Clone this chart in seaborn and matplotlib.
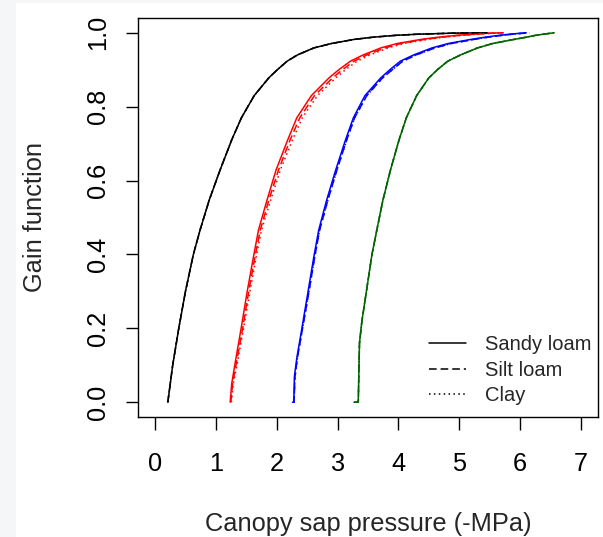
import numpy as np
import pandas as pd
import matplotlib
matplotlib.use("Agg")
import matplotlib.pyplot as plt
import matplotlib.patches as mpatches
from matplotlib.lines import Line2D
import seaborn as sns

# ─── Data ──────────────────────────────────────────────────────────────────────
soils = ["Sandy loam", "Silt loam", "Clay"]

black_gain = [0, 0.05, 0.1, 0.2, 0.3, 0.4, 0.466, 0.547, 0.629, 0.71, 0.77, 0.83,
              0.878, 0.9, 0.923, 0.94, 0.959, 0.971, 0.982, 0.988, 0.993, 0.996, 0.999, 1.0]
black_sandy = [0.21, 0.25, 0.29, 0.39, 0.50, 0.63, 0.74, 0.89, 1.07, 1.26, 1.42, 1.63,
               1.87, 2.01, 2.17, 2.34, 2.61, 2.90, 3.27, 3.58, 3.95, 4.30, 4.90, 5.46]
black_silt = [0.21, 0.25, 0.29, 0.39, 0.50, 0.63, 0.74, 0.89, 1.07, 1.26, 1.42, 1.63,
              1.87, 2.01, 2.17, 2.34, 2.61, 2.90, 3.27, 3.58, 3.95, 4.30, 4.90, 5.46]
black_clay = [0.21, 0.25, 0.29, 0.39, 0.50, 0.63, 0.74, 0.89, 1.07, 1.26, 1.42, 1.63,
              1.87, 2.01, 2.17, 2.34, 2.61, 2.90, 3.27, 3.58, 3.95, 4.30, 4.90, 5.46]

red_gain = [0, 0.05, 0.1, 0.2, 0.3, 0.4, 0.466, 0.547, 0.629, 0.71, 0.77, 0.83,
            0.878, 0.9, 0.923, 0.94, 0.959, 0.971, 0.982, 0.988, 0.993, 0.996, 0.998, 1.0]
red_sandy = [1.235, 1.26, 1.31, 1.415, 1.515, 1.625, 1.70, 1.84, 1.99, 2.18, 2.33, 2.57,
             2.86, 3.02, 3.21, 3.42, 3.71, 3.98, 4.37, 4.65, 4.95, 5.20, 5.38, 5.70]
red_silt = [1.245, 1.275, 1.33, 1.44, 1.54, 1.65, 1.73, 1.87, 2.03, 2.22, 2.38, 2.62,
            2.92, 3.08, 3.27, 3.48, 3.78, 4.04, 4.43, 4.70, 5.00, 5.24, 5.42, 5.72]
red_clay = [1.255, 1.285, 1.345, 1.455, 1.56, 1.67, 1.75, 1.90, 2.06, 2.26, 2.42, 2.67,
            2.97, 3.13, 3.32, 3.53, 3.83, 4.09, 4.48, 4.75, 5.05, 5.28, 5.46, 5.74]

blue_gain = [0, 0, 0.069, 0.12, 0.177, 0.285, 0.394, 0.466, 0.547, 0.629, 0.71, 0.77,
             0.83, 0.878, 0.9, 0.923, 0.94, 0.959, 0.971, 0.982, 0.988, 0.993, 0.997, 1.0]
blue_sandy = [2.26, 2.28, 2.29, 2.33, 2.39, 2.50, 2.61, 2.69, 2.82, 2.97, 3.13, 3.26,
              3.45, 3.71, 3.86, 4.03, 4.25, 4.55, 4.82, 5.19, 5.42, 5.65, 5.88, 6.10]
blue_silt = [2.265, 2.285, 2.30, 2.34, 2.40, 2.515, 2.625, 2.705, 2.84, 2.99, 3.15, 3.28,
             3.48, 3.74, 3.90, 4.07, 4.29, 4.60, 4.87, 5.24, 5.47, 5.70, 5.92, 6.15]
blue_clay = [2.265, 2.285, 2.30, 2.34, 2.40, 2.515, 2.625, 2.705, 2.84, 2.99, 3.15, 3.28,
             3.48, 3.74, 3.90, 4.07, 4.29, 4.60, 4.87, 5.24, 5.47, 5.70, 5.92, 6.15]

green_gain = [0, 0, 0.16, 0.22, 0.285, 0.4, 0.466, 0.547, 0.629, 0.71, 0.77, 0.83,
              0.878, 0.9, 0.923, 0.94, 0.959, 0.971, 0.982, 0.988, 0.993, 0.997, 1.0]
green_sandy = [3.27, 3.34, 3.36, 3.40, 3.46, 3.565, 3.645, 3.745, 3.87, 4.01, 4.13, 4.30,
               4.50, 4.64, 4.81, 5.02, 5.30, 5.55, 5.90, 6.10, 6.25, 6.42, 6.56]
green_silt = [3.27, 3.34, 3.36, 3.40, 3.46, 3.565, 3.645, 3.745, 3.87, 4.01, 4.13, 4.30,
              4.50, 4.64, 4.81, 5.02, 5.30, 5.55, 5.90, 6.10, 6.25, 6.42, 6.56]
green_clay = [3.27, 3.34, 3.36, 3.40, 3.46, 3.565, 3.645, 3.745, 3.87, 4.01, 4.13, 4.30,
              4.50, 4.64, 4.81, 5.02, 5.30, 5.55, 5.90, 6.10, 6.25, 6.42, 6.56]

x_ticks = [0, 1, 2, 3, 4, 5, 6, 7]
y_ticks = [0.0, 0.2, 0.4, 0.6, 0.8, 1.0]

# ─── Style ─────────────────────────────────────────────────────────────────────
sns.set_style("ticks")
plt.rcParams.update({
    "font.family": ["Liberation Sans", "DejaVu Sans"],
    "axes.linewidth": 1.0,
    "xtick.major.width": 1.0,
    "ytick.major.width": 1.0,
})

DASHES = {"Sandy loam": (None, None), "Silt loam": (5.0, 2.6), "Clay": (1.0, 2.2)}
STYLE = {"Sandy loam": "-", "Silt loam": "--", "Clay": ":"}
FS = 18.3

groups = [
    ("black", black_gain, [black_sandy, black_silt, black_clay]),
    ("#ff0000", red_gain, [red_sandy, red_silt, red_clay]),
    ("#0000ff", blue_gain, [blue_sandy, blue_silt, blue_clay]),
    ("#006400", green_gain, [green_sandy, green_silt, green_clay]),
]

fig = plt.figure(figsize=(6.03, 5.37), dpi=100, facecolor="#f5f6f8")
fig.add_artist(mpatches.Rectangle((16 / 603, 0), 1, 1 - 3 / 537,
                                  transform=fig.transFigure, facecolor="white",
                                  edgecolor="none", zorder=-10))
ax = fig.add_axes([138 / 603, 1 - 417 / 537, 460 / 603, 399 / 537])
ax.set_facecolor("white")

for si, soil in enumerate(soils):
    for color, gain, series in groups:
        df = pd.DataFrame({"pressure": series[si], "gain": gain})
        sns.lineplot(data=df, x="pressure", y="gain", ax=ax, sort=False,
                     estimator=None, color=color, linewidth=1.1,
                     linestyle=STYLE[soil])
        line = ax.lines[-1]
        line.set_solid_joinstyle("round")
        if soil != "Sandy loam":
            line.set_dashes(DASHES[soil])

ax.set_xlim(-0.28, 7.28)
ax.set_ylim(-0.04, 1.04)
ax.set_xticks(x_ticks)
ax.set_yticks(y_ticks)
ax.set_xticklabels([str(t) for t in x_ticks])
ax.set_yticklabels([f"{t:.1f}" for t in y_ticks], rotation=90, va="center")
ax.tick_params(axis="both", length=9, labelsize=FS, colors="black", direction="out")
ax.tick_params(axis="x", pad=16)
ax.tick_params(axis="y", pad=11)
for s in ax.spines.values():
    s.set_visible(True)
    s.set_color("black")

ax.set_xlabel("Canopy sap pressure (-MPa)", fontsize=FS, labelpad=26)
ax.set_ylabel("Gain function", fontsize=FS, labelpad=28)

handles = [Line2D([0], [0], color="black", lw=1.1, linestyle="-"),
           Line2D([0], [0], color="black", lw=1.1, dashes=DASHES["Silt loam"]),
           Line2D([0], [0], color="black", lw=1.1, dashes=DASHES["Clay"])]
ax.legend(handles, soils, loc="lower right", bbox_to_anchor=(0.985, 0.03),
          frameon=False, fontsize=14.5, handlelength=1.85, handletextpad=0.9,
          labelspacing=0.32, borderpad=0, borderaxespad=0)

fig.savefig("out.png", dpi=100, facecolor=fig.get_facecolor())
